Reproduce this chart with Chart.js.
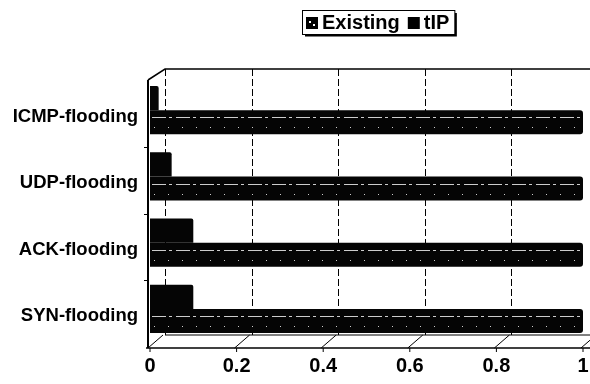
<!DOCTYPE html>
<html>
<head>
<meta charset="utf-8">
<script src="https://cdn.jsdelivr.net/npm/chart.js@4.4.1/dist/chart.umd.min.js"></script>
<style>
  html, body { margin: 0; padding: 0; background: #ffffff; }
  #wrap { width: 590px; height: 384px; }
</style>
</head>
<body>
<div id="wrap"><canvas id="c" width="590" height="384"></canvas></div>
<script>
// Attack types, top to bottom
const categories = ['ICMP-flooding', 'UDP-flooding', 'ACK-flooding', 'SYN-flooding'];
// Series values
const existingValues = [0.02, 0.05, 0.1, 0.1];
const tipValues = [1, 1, 1, 1];
const seriesNames = ['Existing', 'tIP'];
// Value axis ticks
const xTicks = [0, 0.2, 0.4, 0.6, 0.8, 1];

const FONT = '"Liberation Sans", Arial, sans-serif';
const DX = 15, DY = 11; // depth of the box frame

// Box frame, back-wall gridlines and floor
const framePlugin = {
  id: 'frame',
  beforeDatasetsDraw(chart) {
    const { ctx, chartArea: a, scales } = chart;
    const x = scales.x;
    const top = a.top + 3, bot = a.bottom + 6;
    ctx.save();
    ctx.strokeStyle = '#000';
    ctx.lineWidth = 1;
    // back wall gridlines
    ctx.setLineDash([7, 3]);
    xTicks.forEach(v => {
      const px = Math.round(x.getPixelForValue(v) + DX) + 0.5;
      ctx.beginPath();
      ctx.moveTo(px, top - DY);
      ctx.lineTo(px, bot - DY - 2);
      ctx.stroke();
    });
    ctx.setLineDash([]);
    // top of back wall
    ctx.lineWidth = 1.5;
    ctx.beginPath();
    ctx.moveTo(a.left - 2, top);
    ctx.lineTo(a.left + DX, top - DY);
    ctx.lineTo(chart.width, top - DY);
    ctx.stroke();
    // left wall front edge
    ctx.lineWidth = 2;
    ctx.beginPath();
    ctx.moveTo(a.left - 2, top);
    ctx.lineTo(a.left - 2, bot);
    ctx.stroke();
    // floor
    ctx.lineWidth = 1.5;
    ctx.beginPath();
    ctx.moveTo(a.left - 4, bot);
    ctx.lineTo(chart.width, bot);
    ctx.stroke();
    ctx.lineWidth = 1;
    ctx.beginPath();
    ctx.moveTo(a.left + DX, bot - DY - 2);
    ctx.lineTo(chart.width, bot - DY - 2);
    ctx.stroke();
    xTicks.forEach(v => {
      const px = x.getPixelForValue(v);
      ctx.beginPath();
      ctx.moveTo(px - 2, bot);
      ctx.lineTo(px + DX - 2, bot - DY - 2);
      ctx.stroke();
      ctx.beginPath();
      ctx.moveTo(px, bot);
      ctx.lineTo(px, bot + 4);
      ctx.stroke();
    });
    // category separators on the left wall
    const y = scales.y;
    for (let i = 1; i < categories.length; i++) {
      const py = Math.round((y.getPixelForValue(i - 1) + y.getPixelForValue(i)) / 2 + 4) + 0.5;
      ctx.beginPath();
      ctx.moveTo(a.left - 6, py);
      ctx.lineTo(a.left - 2, py);
      ctx.stroke();
    }
    ctx.restore();
  },
  afterDatasetsDraw(chart) {
    // light streak along the long bars
    const { ctx } = chart;
    const meta = chart.getDatasetMeta(1);
    ctx.save();
    ctx.strokeStyle = 'rgba(255,255,255,0.8)';
    ctx.lineWidth = 1;
    meta.data.forEach(bar => {
      const p = bar.getProps(['x', 'y', 'base', 'height'], true);
      const yy = Math.round(p.y - p.height * 0.2) + 0.5;
      ctx.setLineDash([14, 3, 3, 4]);
      ctx.beginPath();
      ctx.moveTo(p.base + 2, yy);
      ctx.lineTo(p.x - 2, yy);
      ctx.stroke();
      ctx.setLineDash([1, 13]);
      ctx.beginPath();
      ctx.moveTo(p.base + 4, yy + 10);
      ctx.lineTo(p.x - 4, yy + 10);
      ctx.stroke();
    });
    ctx.restore();
  }
};

// Boxed legend above the plot
const legendPlugin = {
  id: 'boxLegend',
  afterDraw(chart) {
    const { ctx } = chart;
    ctx.save();
    ctx.font = 'bold 20px ' + FONT;
    ctx.textBaseline = 'middle';
    const left = 302, top = 10, h = 24, sw = 12, gap = 4, sep = 8;
    let xx = left + 4;
    const cy = top + h / 2 + 1;
    chart.data.datasets.forEach((ds, i) => {
      ctx.fillStyle = '#000';
      ctx.fillRect(xx, cy - sw / 2, sw, sw);
      if (i === 0) {
        ctx.fillStyle = '#fff';
        ctx.fillRect(xx + 3, cy - 2, 2, 2);
        ctx.fillRect(xx + 7, cy + 1, 2, 2);
      }
      xx += sw + gap;
      ctx.fillStyle = '#000';
      ctx.fillText(ds.label, xx, cy);
      xx += ctx.measureText(ds.label).width + sep;
    });
    const right = xx - sep + 5;
    ctx.strokeStyle = '#000';
    ctx.lineWidth = 1;
    ctx.strokeRect(left + 0.5, top + 0.5, right - left, h);
    ctx.lineWidth = 2;
    ctx.beginPath();
    ctx.moveTo(right + 1.5, top + 3);
    ctx.lineTo(right + 1.5, top + h + 1.5);
    ctx.lineTo(left + 3, top + h + 1.5);
    ctx.stroke();
    ctx.restore();
  }
};

new Chart(document.getElementById('c'), {
  type: 'bar',
  data: {
    labels: categories,
    datasets: [
      { label: seriesNames[0], data: existingValues, backgroundColor: '#050505',
        borderRadius: { topRight: 2, bottomRight: 0 }, borderSkipped: 'start' },
      { label: seriesNames[1], data: tipValues, backgroundColor: '#050505',
        borderRadius: { topRight: 3, bottomRight: 3 }, borderSkipped: 'start' }
    ]
  },
  options: {
    indexAxis: 'y',
    responsive: false,
    animation: false,
    devicePixelRatio: 1,
    layout: { padding: { top: 77, right: 7, bottom: 0, left: 0 } },
    datasets: { bar: { categoryPercentage: 0.73, barPercentage: 1.0 } },
    plugins: { legend: { display: false }, tooltip: { enabled: false } },
    scales: {
      x: {
        min: 0, max: 1,
        afterBuildTicks(scale) { scale.ticks = xTicks.map(v => ({ value: v })); },
        grid: { display: false, drawTicks: false },
        border: { display: false },
        ticks: {
          padding: 12, color: '#000',
          font: { family: FONT, size: 20, weight: 'bold' },
          maxRotation: 0,
          callback: v => String(v)
        },
        afterFit(scale) {
          scale.height = 42;
          scale.paddingLeft = 0;
          scale.paddingRight = 0;
        }
      },
      y: {
        grid: { display: false, drawTicks: false },
        border: { display: false },
        ticks: {
          padding: 12, color: '#000', labelOffset: 7,
          font: { family: FONT, size: 18.5, weight: 'bold' }
        },
        afterFit(scale) { scale.width = 150; }
      }
    }
  },
  plugins: [framePlugin, legendPlugin]
});
</script>
</body>
</html>
